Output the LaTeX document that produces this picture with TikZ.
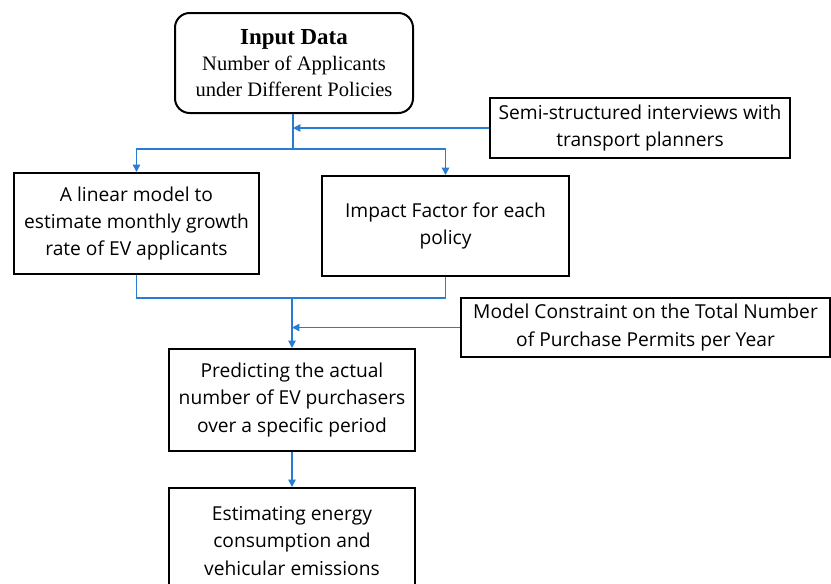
\documentclass[tikz,border=0pt]{standalone}
\usepackage{fontspec}
\setmainfont{Liberation Serif}
\newfontfamily\boxfont{Open Sans}
\usetikzlibrary{arrows.meta}
\definecolor{lineblue}{RGB}{40,125,210}
\begin{document}
\begin{tikzpicture}[x=0.75pt,y=-0.75pt,
  box/.style={draw=black,line width=1.5pt,inner sep=0pt,align=center,
    font=\boxfont\fontsize{14.4}{20.3}\selectfont},
  conn/.style={draw=lineblue,line width=1.1pt},
  arr/.style={conn,-{Triangle[length=5.5pt,width=5.5pt]}}]
\useasboundingbox (0,0) rectangle (831,583);
\node[box,rounded corners=11pt,minimum width=238*0.75pt,minimum height=100*0.75pt,
  font=\fontsize{15.4}{19.5}\selectfont] (input) at (294,63)
  {{\bfseries\fontsize{17.2}{19.5}\selectfont Input Data}\\Number of Applicants\\under Different Policies};
\node[box,minimum width=300*0.75pt,minimum height=60*0.75pt] (semi) at (640,128)
  {Semi-structured interviews with\\transport planners};
\node[box,minimum width=245*0.75pt,minimum height=101*0.75pt] (linear) at (136.5,223.5)
  {A linear model to\\estimate monthly growth\\rate of EV applicants};
\node[box,minimum width=247*0.75pt,minimum height=100*0.75pt] (impact) at (445.5,226)
  {Impact Factor for each\\policy};
\node[box,minimum width=369*0.75pt,minimum height=59*0.75pt] (constraint) at (645.5,327.5)
  {Model Constraint on the Total Number\\of Purchase Permits per Year};
\node[box,minimum width=246*0.75pt,minimum height=102*0.75pt] (predict) at (292,400)
  {Predicting the actual\\number of EV purchasers\\over a specific period};
\node[box,minimum width=246*0.75pt,minimum height=106*0.75pt] (estimate) at (292,541)
  {Estimating energy\\consumption and\\vehicular emissions};
\coordinate (j1) at (293,149);
\coordinate (j2) at (292,298);
\draw[conn] (input.south -| j1) -- (j1);
\draw[arr] (j1) -| (linear.north);
\draw[arr] (j1) -| (impact.north);
\draw[arr] (semi.west) -- (semi.west -| j1);
\draw[conn] (linear.south) |- (impact.south |- j2) -- (impact.south);
\draw[arr] (j2) -- (predict.north);
\draw[arr] (constraint.west) -- (constraint.west -| j2);
\draw[arr] (predict.south) -- (estimate.north);
\end{tikzpicture}
\end{document}
